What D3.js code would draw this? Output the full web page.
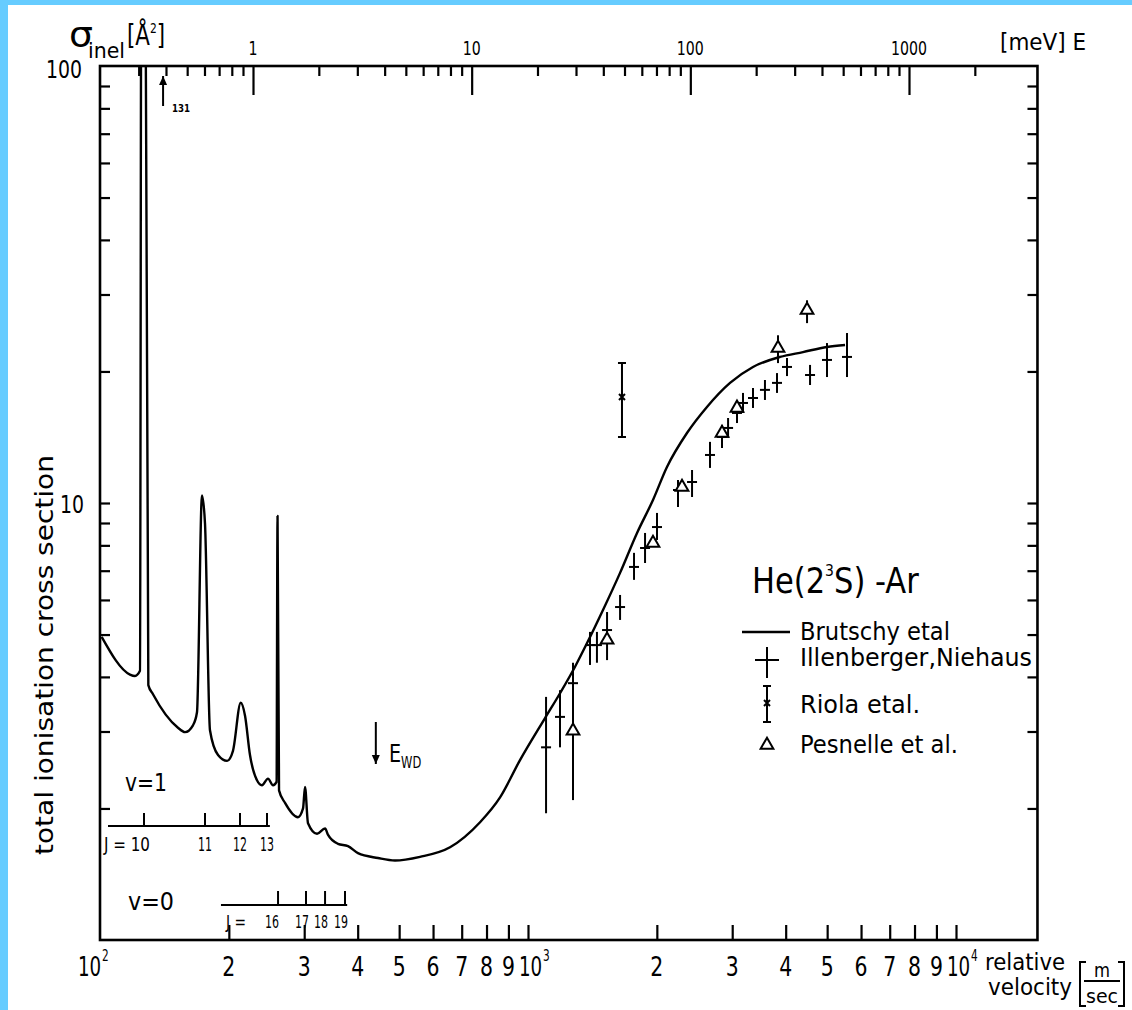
<!DOCTYPE html>
<html><head><meta charset="utf-8">
<script src="https://cdn.jsdelivr.net/npm/d3@7"></script>
<style>body{margin:0;background:#fff}svg{display:block}</style>
</head><body>
<svg id="c" width="1132" height="1010"></svg>
<script>
// ---------------- data ----------------
// Brutschy et al. curve: [relative velocity m/s, cross section Å²]
const brutschy = [
 [100.9,4.94],[117.5,4.05],[120.7,4.02],[124.0,4.13],[125.0,300],[127.4,300],[129.7,3.83],[133.0,3.65],
 [152.1,3.06],[158.0,2.99],[164.9,3.10],[168.5,3.32],[173.1,10.4],[175.9,9.0],[180.7,3.02],[188.7,2.65],
 [198.1,2.57],[204.5,2.71],[213.2,3.49],[218.2,3.26],[224.1,2.65],[232.7,2.32],[239.0,2.26],[246.9,2.34],
 [253.7,2.26],[258.5,2.30],[259.9,9.34],[262.0,2.20],[270.6,2.06],[290.1,1.91],[298.1,2.00],[301.3,2.24],
 [306.2,1.85],[321.4,1.75],[335.6,1.80],[341.1,1.74],[359.8,1.66],[379.7,1.64],[400.6,1.58],[446.2,1.54],
 [488.9,1.52],[559.4,1.55],[657.4,1.63],[772.6,1.86],[860.4,2.12],[957.9,2.58],[1096,3.22],[1188,3.67],
 [1288,4.22],[1374,4.78],[1497,5.69],[1641,6.92],[1798,8.54],[1959,10.16],[2112,12.09],[2352,14.46],
 [2619,16.59],[2965,18.83],[3355,20.48],[3880,21.59],[4390,22.15],[4995,22.75],[5505,22.99]
];
// Illenberger, Niehaus: [v, sigma, low, high]
const illenberger = [
 [1102,2.76,1.95,3.60],[1188,3.24,2.76,3.73],[1274,3.87,2.09,4.31],[1396,4.73,4.26,5.07],
 [1449,4.73,4.31,5.07],[1530,5.12,4.37,5.63],[1641,5.78,5.40,6.16],[1769,7.14,6.67,7.69],
 [1877,7.89,7.29,8.54],[2002,8.81,8.23,9.49],[2241,10.71,9.79,11.29],[2417,11.17,10.32,11.90],
 [2662,12.88,12.03,13.80],[2840,14.16,13.36,15.09],[2934,14.85,14.09,15.65],[3078,16.07,15.24,16.94],
 [3179,16.94,16.07,17.86],[3355,17.39,16.50,18.33],[3578,18.15,17.21,19.12],[3818,18.83,17.86,19.83],
 [4029,20.48,19.52,21.47],[4560,19.63,18.62,20.70],[4995,21.25,19.42,23.23],[5564,21.59,19.42,24.49]
];
// Riola et al.: [v, sigma, low, high]
const riola = [[1658,17.48,14.16,20.9]];
// Pesnelle et al.: [v, sigma, low, high] (null = no bar)
const pesnelle = [
 [1274,3.01,null,null],[1530,4.86,null,null],[1959,8.10,null,null],[2290,10.88,null,null],
 [2840,14.46,null,null],[3078,16.50,null,null],[3838,22.63,20.9,24.2],[4487,27.65,25.8,29.1]
];
// rotational resonance markers (velocity of each J)
const jV1 = [126.7,175.9,212.4,245.6], jLab1 = ["J = 10","11","12","13"];
const jV0 = [260.6,302.9,335.6,373.6], jLab0 = ["16","17","18","19"];
const jLine1 = [104.4,249.4], jLine0 = [191.7,378];
// axis ticks
const vTicks = [200,300,400,500,600,700,800,900,1000,2000,3000,4000,5000,6000,7000,8000,9000,10000];
const vLabelVals = [100,200,300,400,500,600,700,800,900,1000,2000,3000,4000,5000,6000,7000,8000,9000,10000];
const vLabels = ["10^2","2","3","4","5","6","7","8","9","10^3","2","3","4","5","6","7","8","9","10^4"];
const sTicks = [2,3,4,5,6,7,8,9,10,20,30,40,50,60,70,80,90];
const eMinor = [0.3,0.4,0.5,0.6,0.7,0.8,0.9,2,3,4,5,6,7,8,9,20,30,40,50,60,70,80,90,200,300,400,500,600,700,800,900,2000];
const eMajor = [1,10,100,1000];
const vArrow131 = 140.4, vEWD = 441;

// ---------------- drawing ----------------
const FONT = "'Liberation Sans Narrow','DejaVu Sans Condensed','Liberation Sans','DejaVu Sans',sans-serif";
const W=1132,H=1010;
const svg=d3.select("#c");
svg.append("rect").attr("width",W).attr("height",H).attr("fill","#66ccff");
svg.append("rect").attr("x",8).attr("y",5).attr("width",W-8).attr("height",H-5).attr("fill","#fff");

const x=d3.scaleLog().domain([100,10000]).range([100,956]);
const y=d3.scaleLog().domain([1,100]).range([940,66]);
const eS=d3.scaleLog().domain([1,1000]).range([253,909]);
const xL=x(100), xR=x(15500), yT=y(100), yB=y(1);

function T(g,px,py,s,fs,o={}){
  const t=g.append("text").attr("x",px).attr("y",py).attr("font-size",fs)
    .attr("font-family",FONT).attr("fill","#000").attr("text-anchor",o.anchor||"start");
  if(o.w){t.attr("textLength",o.w).attr("lengthAdjust","spacingAndGlyphs");}
  if(o.bold) t.attr("font-weight","bold");
  t.text(s);
  return t;
}
function TS(g,px,py,sx,fs){
  return g.append("text").attr("transform",`translate(${px},${py}) scale(${sx},1)`)
    .attr("font-size",fs).attr("font-family",FONT).attr("fill","#000");
}
const g=svg.append("g");

svg.append("clipPath").attr("id","clip").append("rect").attr("x",xL).attr("y",yT).attr("width",xR-xL).attr("height",yB-yT);

g.append("rect").attr("x",xL).attr("y",yT).attr("width",xR-xL).attr("height",yB-yT)
 .attr("fill","none").attr("stroke","#000").attr("stroke-width",2.6);

function styleAxis(sel){sel.select(".domain").remove();sel.selectAll(".tick line").attr("stroke","#000").attr("stroke-width",2.2);sel.selectAll(".tick text").remove();}

g.append("g").attr("transform",`translate(0,${yB})`)
 .call(d3.axisBottom(x).tickValues(vTicks).tickSizeInner(-15).tickSizeOuter(0)).call(styleAxis);
g.append("g").attr("transform",`translate(${xL},0)`)
 .call(d3.axisLeft(y).tickValues(sTicks).tickSizeInner(-10).tickSizeOuter(0)).call(styleAxis);
g.append("g").attr("transform",`translate(${xR},0)`)
 .call(d3.axisRight(y).tickValues(sTicks).tickSizeInner(-10).tickSizeOuter(0)).call(styleAxis);
g.append("g").attr("transform",`translate(0,${yT})`)
 .call(d3.axisTop(eS).tickValues(eMinor).tickSizeInner(-10).tickSizeOuter(0)).call(styleAxis);
g.append("g").attr("transform",`translate(0,${yT})`)
 .call(d3.axisTop(eS).tickValues(eMajor).tickSizeInner(-29).tickSizeOuter(0)).call(styleAxis);

// bottom labels
vLabelVals.forEach((v,i)=>{
  const lab=vLabels[i];
  if(lab.startsWith("10^")){
    const px = x(v) + (v===100?-22:-9);
    const t=TS(g,px,976,0.78,26);
    t.append("tspan").text("10");
    t.append("tspan").attr("font-size",15).attr("dy",-15).attr("dx",1).text(lab.slice(3));
  } else {
    T(g,x(v),976,lab,26,{anchor:"middle",w:13});
  }
});
T(g,82,78,"100",25,{anchor:"end",w:36});
T(g,84,513,"10",25,{anchor:"end",w:24});
eMajor.forEach(e=>{
  const s=String(e);
  T(g,eS(e),55,s,19,{anchor:"middle",w:s.length*9});
});
T(g,1000,50,"[meV] E",23,{w:86});

// sigma label
T(g,69,47,"σ",36,{w:24});
T(g,88,58,"inel",21,{w:37});
const br=TS(g,127,45,0.85,28);
br.append("tspan").text("[Å");
br.append("tspan").attr("font-size",14).attr("dy",-12).text("2");
br.append("tspan").attr("dy",12).text("]");

g.append("text").attr("transform","translate(53,655) rotate(-90)").attr("text-anchor","middle")
 .attr("font-family",FONT).attr("font-size",24).attr("textLength",400).attr("lengthAdjust","spacingAndGlyphs")
 .text("total ionisation cross section");

T(g,985,970,"relative",23,{w:80});
T(g,988,995,"velocity",23,{w:84});
const bx=1080, bx2=1124;
g.append("path").attr("d",`M${bx+6},962 H${bx} V1006 H${bx+6} M${bx2-6},962 H${bx2} V1006 H${bx2-6} M${bx+4},981 H${bx2-4}`)
 .attr("fill","none").attr("stroke","#000").attr("stroke-width",2);
T(g,1102,977,"m",20,{anchor:"middle",w:16});
T(g,1102,1003,"sec",19,{anchor:"middle",w:32});

// data layer
const d=g.append("g").attr("clip-path","url(#clip)");
const line=d3.line().x(p=>x(p[0])).y(p=>y(p[1])).curve(d3.curveMonotoneX);
d.append("path").datum(brutschy).attr("d",line).attr("fill","none").attr("stroke","#000")
 .attr("stroke-width",2.4).attr("stroke-linejoin","round");

const ill=d.selectAll("g.ill").data(illenberger).join("g").attr("class","ill");
ill.append("line").attr("x1",p=>x(p[0])).attr("x2",p=>x(p[0])).attr("y1",p=>y(p[2])).attr("y2",p=>y(p[3]))
 .attr("stroke","#000").attr("stroke-width",2);
ill.append("line").attr("x1",p=>x(p[0])-5).attr("x2",p=>x(p[0])+5).attr("y1",p=>y(p[1])).attr("y2",p=>y(p[1]))
 .attr("stroke","#000").attr("stroke-width",2);

const ri=d.selectAll("g.ri").data(riola).join("g").attr("class","ri");
ri.append("path").attr("d",p=>{const X=x(p[0]),a=y(p[2]),b=y(p[3]);return `M${X},${a}V${b}M${X-4},${a}H${X+4}M${X-4},${b}H${X+4}`;})
 .attr("stroke","#000").attr("stroke-width",2).attr("fill","none");
ri.append("path").attr("d",p=>{const X=x(p[0]),Y=y(p[1]);return `M${X-3},${Y-3}L${X+3},${Y+3}M${X+3},${Y-3}L${X-3},${Y+3}`;})
 .attr("stroke","#000").attr("stroke-width",2);

const tri=d3.symbol(d3.symbolTriangle).size(70);
const pe=d.selectAll("g.pe").data(pesnelle).join("g").attr("class","pe");
pe.filter(p=>p[2]!==null).append("line").attr("x1",p=>x(p[0])).attr("x2",p=>x(p[0]))
 .attr("y1",p=>y(p[2])).attr("y2",p=>y(p[3])).attr("stroke","#000").attr("stroke-width",2);
pe.append("path").attr("d",tri).attr("transform",p=>`translate(${x(p[0])},${y(p[1])})`)
 .attr("fill","#fff").attr("stroke","#000").attr("stroke-width",2);

// J scales
function jScale(vals,ln,yl,tick){
  g.append("line").attr("x1",x(ln[0])).attr("x2",x(ln[1])).attr("y1",yl).attr("y2",yl).attr("stroke","#000").attr("stroke-width",2);
  vals.forEach(v=>{
    g.append("line").attr("x1",x(v)).attr("x2",x(v)).attr("y1",yl).attr("y2",yl-tick).attr("stroke","#000").attr("stroke-width",2);
  });
}
jScale(jV1,jLine1,826,13);
jScale(jV0,jLine0,905,14);
T(g,104,851,jLab1[0],19,{w:46});
jV1.slice(1).forEach((v,i)=>T(g,x(v),851,jLab1[i+1],19,{anchor:"middle",w:14}));
T(g,226,928,"J =",17,{w:20});
T(g,x(jV0[0])-6,928,jLab0[0],17,{anchor:"middle",w:14});
jV0.slice(1).forEach((v,i)=>T(g,x(v)-4,928,jLab0[i+1],17,{anchor:"middle",w:14}));
T(g,125,791,"v=1",25,{w:42});
T(g,128,910,"v=0",25,{w:46});

function arrow(px,y1,y2){
  const dir = y2<y1?1:-1;
  g.append("line").attr("x1",px).attr("x2",px).attr("y1",y1).attr("y2",y2).attr("stroke","#000").attr("stroke-width",2);
  g.append("path").attr("d",`M${px},${y2}L${px-4},${y2+9*dir}L${px+4},${y2+9*dir}Z`).attr("fill","#000");
}
arrow(x(vArrow131),106,76);
T(g,172,112,"131",11,{bold:true,w:18});
arrow(x(vEWD),722,764);
const ew=TS(g,389,762,0.85,25);
ew.append("tspan").text("E");
ew.append("tspan").attr("font-size",15).attr("dy",6).text("WD");

// legend
const hd=TS(g,752,593,0.97,35);
hd.append("tspan").text("He(2");
hd.append("tspan").attr("font-size",16).attr("dy",-17).text("3");
hd.append("tspan").attr("dy",17).text("S) -Ar");
g.append("line").attr("x1",742).attr("x2",790).attr("y1",632).attr("y2",632).attr("stroke","#000").attr("stroke-width",2.3);
T(g,800,640,"Brutschy etal",24,{w:150});
g.append("path").attr("d","M767,647V678M755,660H779").attr("stroke","#000").attr("stroke-width",2);
T(g,800,666,"Illenberger,Niehaus",24,{w:232});
g.append("path").attr("d","M767,686V722M763,686H771M763,722H771M764,700L770,706M770,700L764,706").attr("stroke","#000").attr("stroke-width",2).attr("fill","none");
T(g,800,713,"Riola etal.",24,{w:120});
g.append("path").attr("d",tri).attr("transform","translate(767,745)").attr("fill","#fff").attr("stroke","#000").attr("stroke-width",2);
T(g,800,753,"Pesnelle et al.",24,{w:158});
</script>
</body></html>
